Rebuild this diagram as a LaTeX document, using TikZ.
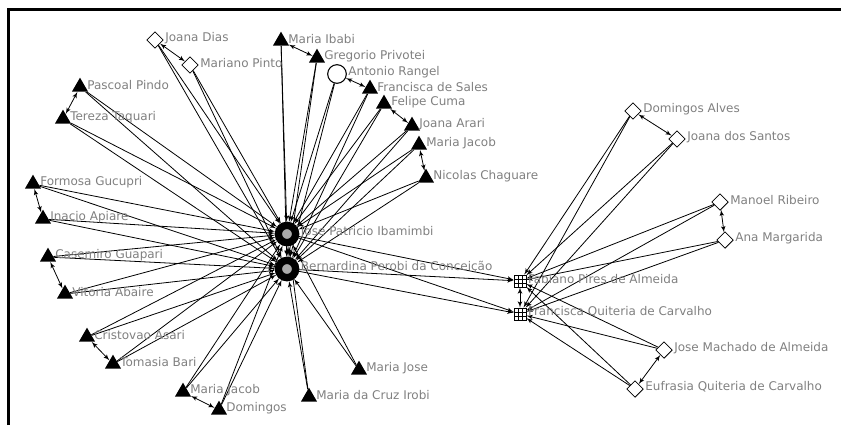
\documentclass[tikz,border=0pt]{standalone}
\usepackage{fontspec}
\setmainfont{DejaVu Sans}
\usepackage{tikz}
\usetikzlibrary{shapes.geometric,arrows,calc}
\pgfdeclarelayer{background}
\pgfsetlayers{background,main}
\definecolor{labgray}{RGB}{128,128,128}
\definecolor{hubgray}{RGB}{170,170,170}
\tikzstyle{lab} = [text=labgray, font=\fontsize{9}{10}\selectfont, inner sep=1pt, yshift=1.5pt]
\tikzstyle{actor} = [regular polygon, regular polygon sides=3, fill=black, inner sep=0pt,
minimum size=14pt, label distance=4pt, every label/.append style={yshift=2.2pt}]
\tikzstyle{kin} = [diamond, draw, fill=white, inner sep=0pt, minimum size=12.5pt, line width=0.6pt,
label distance=1.5pt]
\tikzstyle{open} = [circle, draw, fill=white, inner sep=0pt, minimum size=14pt, line width=0.8pt,
label distance=0.5pt]
\tikzstyle{hub} = [circle, draw=black, fill=hubgray, inner sep=0pt, minimum size=13pt, line width=5.5pt,
label distance=0pt]
\tikzstyle{grid} = [rectangle, draw, fill=white, inner sep=0pt, minimum size=9pt, line width=0.6pt,
label distance=2pt, path picture={
\draw [line width=0.6pt] ($(path picture bounding box.south west)!1/3!(path picture bounding box.south east)$) -- ($(path picture bounding box.north west)!1/3!(path picture bounding box.north east)$)
($(path picture bounding box.south west)!2/3!(path picture bounding box.south east)$) -- ($(path picture bounding box.north west)!2/3!(path picture bounding box.north east)$)
($(path picture bounding box.south west)!1/3!(path picture bounding box.north west)$) -- ($(path picture bounding box.south east)!1/3!(path picture bounding box.north east)$)
($(path picture bounding box.south west)!2/3!(path picture bounding box.north west)$) -- ($(path picture bounding box.south east)!2/3!(path picture bounding box.north east)$);}]
\tikzstyle{line} = [draw, line width=0.6pt, -latex']
\tikzstyle{tie} = [draw, line width=0.6pt, latex'-latex']

\begin{document}
\begin{tikzpicture}[x=0.75pt, y=-0.75pt]
			\useasboundingbox (0,0) rectangle (841,425);
			\draw [line width=1.6pt] (8.5,425) -- (8.5,9.5) -- (841,9.5);
			% central couple
			\node [hub, label={[lab]0:Jose Patricio Ibamimbi}] (jpi) at (287,234) {};
			\node [hub, label={[lab]0:Bernardina Perobi da Conceição}] (bpc) at (287,269) {};
			% left group
			\node [kin, label={[lab]0:Joana Dias}] (jdias) at (155,40) {};
			\node [kin, label={[lab]0:Mariano Pinto}] (mpinto) at (190,65) {};
			\node [actor, label={[lab]0:Maria Ibabi}] (mibabi) at (281,41) {};
			\node [actor, label={[lab]0:Gregorio Privotei}] (gprivotei) at (317,58) {};
			\node [open, label={[lab]0:Antonio Rangel}] (arangel) at (337,74) {};
			\node [actor, label={[lab]0:Francisca de Sales}] (fsales) at (370,89) {};
			\node [actor, label={[lab]0:Felipe Cuma}] (fcuma) at (384,104) {};
			\node [actor, label={[lab]0:Joana Arari}] (jarari) at (412,126) {};
			\node [actor, label={[lab]0:Maria Jacob}] (mjacoba) at (419,145) {};
			\node [actor, label={[lab]0:Nicolas Chaguare}] (nchaguare) at (426,178) {};
			\node [actor, label={[lab]0:Pascoal Pindo}] (ppindo) at (80,87) {};
			\node [actor, label={[lab]0:Tereza Taquari}] (ttaquari) at (63,119) {};
			\node [actor, label={[lab]0:Formosa Gucupri}] (fgucupri) at (33,184) {};
			\node [actor, label={[lab]0:Inacio Apiare}] (iapiare) at (43,219) {};
			\node [actor, label={[lab]0:Casemiro Guapari}] (cguapari) at (48,257) {};
			\node [actor, label={[lab]0:Vitoria Abaire}] (vabaire) at (65,294) {};
			\node [actor, label={[lab]0:Cristovao Asari}] (casari) at (87,337) {};
			\node [actor, label={[lab]0:Tomasia Bari}] (tbari) at (113,364) {};
			\node [actor, label={[lab]0:Maria Jacob}] (mjacobb) at (183,392) {};
			\node [actor, label={[lab]0:Domingos}] (domingos) at (219,410) {};
			\node [actor, label={[lab]0:Maria da Cruz Irobi}] (mcirobi) at (309,397) {};
			\node [actor, label={[lab]0:Maria Jose}] (mjose) at (359,370) {};
			% right group
			\node [grid, label={[lab]0:Fabiano Pires de Almeida}] (fpa) at (520,281) {};
			\node [grid, label={[lab]0:Francisca Quiteria de Carvalho}] (fqc) at (520,314) {};
			\node [kin, label={[lab]0:Domingos Alves}] (dalves) at (633,111) {};
			\node [kin, label={[lab]0:Joana dos Santos}] (jsantos) at (677,139) {};
			\node [kin, label={[lab]0:Manoel Ribeiro}] (mribeiro) at (720,202) {};
			\node [kin, label={[lab]0:Ana Margarida}] (amargarida) at (725,240) {};
			\node [kin, label={[lab]0:Jose Machado de Almeida}] (jmachado) at (664,350) {};
			\node [kin, label={[lab]0:Eufrasia Quiteria de Carvalho}] (eufrasia) at (635,389) {};
			\begin{pgfonlayer}{background}
			% ties to the central couple
			\path [line] (jdias) edge (jpi) edge (bpc);
			\path [line] (mpinto) edge (jpi) edge (bpc);
			\path [line] (mibabi) edge (jpi) edge (bpc);
			\path [line] (gprivotei) edge (jpi) edge (bpc);
			\path [line] (arangel) edge (jpi) edge (bpc);
			\path [line] (fsales) edge (jpi) edge (bpc);
			\path [line] (fcuma) edge (jpi) edge (bpc);
			\path [line] (jarari) edge (jpi) edge (bpc);
			\path [line] (mjacoba) edge (jpi) edge (bpc);
			\path [line] (nchaguare) edge (jpi) edge (bpc);
			\path [line] (ppindo) edge (jpi) edge (bpc);
			\path [line] (ttaquari) edge (jpi) edge (bpc);
			\path [line] (fgucupri) edge (jpi) edge (bpc);
			\path [line] (iapiare) edge (jpi) edge (bpc);
			\path [line] (cguapari) edge (jpi) edge (bpc);
			\path [line] (vabaire) edge (jpi) edge (bpc);
			\path [line] (casari) edge (jpi) edge (bpc);
			\path [line] (tbari) edge (jpi) edge (bpc);
			\path [line] (mjacobb) edge (jpi) edge (bpc);
			\path [line] (domingos) edge (jpi) edge (bpc);
			\path [line] (mcirobi) edge (jpi) edge (bpc);
			\path [line] (mjose) edge (jpi) edge (bpc);
			% ties to the right couple
			\path [line] (jpi) edge (fpa) edge (fqc);
			\path [line] (bpc) edge (fpa) edge (fqc);
			\path [line] (dalves) edge (fpa) edge (fqc);
			\path [line] (jsantos) edge (fpa) edge (fqc);
			\path [line] (mribeiro) edge (fpa) edge (fqc);
			\path [line] (amargarida) edge (fpa) edge (fqc);
			\path [line] (jmachado) edge (fpa) edge (fqc);
			\path [line] (eufrasia) edge (fpa) edge (fqc);
			% couples
			\path [tie] (jpi) -- (bpc);
			\path [tie] (fpa) -- (fqc);
			\path [tie] (jdias) -- (mpinto);
			\path [tie] (mibabi) -- (gprivotei);
			\path [tie] (arangel) -- (fsales);
			\path [tie] (fcuma) -- (jarari);
			\path [tie] (mjacoba) -- (nchaguare);
			\path [tie] (ppindo) -- (ttaquari);
			\path [tie] (fgucupri) -- (iapiare);
			\path [tie] (cguapari) -- (vabaire);
			\path [tie] (casari) -- (tbari);
			\path [tie] (mjacobb) -- (domingos);
			\path [tie] (dalves) -- (jsantos);
			\path [tie] (mribeiro) -- (amargarida);
			\path [tie] (jmachado) -- (eufrasia);
			\end{pgfonlayer}
		\end{tikzpicture}
\end{document}
